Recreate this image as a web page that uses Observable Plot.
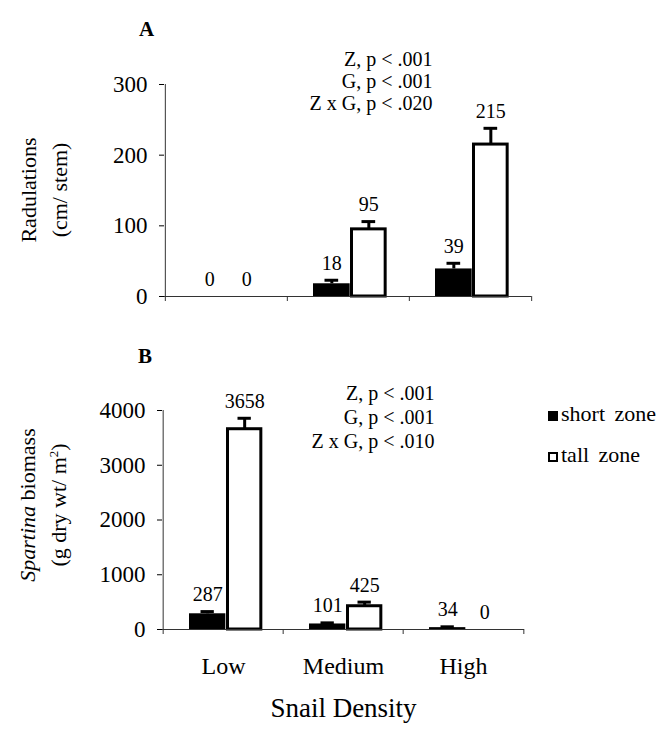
<!DOCTYPE html>
<html><head><meta charset="utf-8">
<script src="https://cdn.jsdelivr.net/npm/d3@7"></script>
<script src="https://cdn.jsdelivr.net/npm/@observablehq/plot@0.6"></script>
<style>
body{margin:0;background:#fff;}
#wrap{position:relative;width:665px;height:729px;font-family:"Liberation Serif","Times New Roman",serif;color:#000;overflow:hidden;background:#fff}
.abs{position:absolute;white-space:nowrap}
#wrap svg{position:absolute;left:0;overflow:visible}
.ytitle{position:absolute;transform:translate(-50%,-50%) rotate(-90deg);text-align:center;white-space:nowrap;font-size:22px;line-height:31px}
.sq{display:inline-block;width:10px;height:10px;box-sizing:border-box;margin-right:3px;vertical-align:0px}
</style></head><body><div id="wrap"></div>
<script>
// ---- data ----
const densities = ["Low", "Medium", "High"];
const legendLabels = ["short zone", "tall zone"];
const radShort = [0, 18, 39];
const radShortErr = [0, 5, 8];
const radTall = [0, 95, 215];
const radTallErr = [0, 11, 23];
const bioShort = [287, 101, 34];
const bioShortErr = [40, 20, 15];
const bioTall = [3658, 425, 0];
const bioTallErr = [200, 75, 0];
const radTicks = [0, 100, 200, 300];
const bioTicks = [0, 1000, 2000, 3000, 4000];
const statsA = ["Z, p < .001", "G, p < .001", "Z x G, p < .020"];
const statsB = ["Z, p < .001", "G, p < .001", "Z x G, p < .010"];
const xTitle = "Snail Density";

function rows(sv, se, tv, te) {
  return densities.flatMap((d, i) => [
    {density: d, zone: "short", value: sv[i], err: se[i]},
    {density: d, zone: "tall", value: tv[i], err: te[i]}
  ]);
}

const FONT = "Liberation Serif, Times New Roman, serif";

function panel(o) {
  const W = 665;
  const w = W - o.ml - o.mr;
  const b = w / 3;
  const h = o.height - o.mt - o.mb;
  const geo = {short: {l: 26, r: 63}, tall: {l: 63, r: 100}};
  const off = z => (geo[z].l + geo[z].r) / 2 - b / 2;
  const ctr = z => (geo[z].l + geo[z].r) / 2;
  const pos = o.data.filter(d => d.value > 0);
  const S = pos.filter(d => d.zone === "short");
  const T = pos.filter(d => d.zone === "tall");
  const marks = [
    Plot.barY(S, {x: "density", y: "value", fill: "#000", insetLeft: geo.short.l, insetRight: b - geo.short.r}),
    Plot.barY(T, {x: "density", y: "value", fill: "#fff", stroke: "#000", strokeWidth: 3, insetLeft: geo.tall.l + 1.5, insetRight: b - geo.tall.r + 1.5}),
    Plot.ruleY([0], {stroke: "#333", strokeWidth: 1}),
    Plot.ruleX([densities[0]], {x: d => d, dx: -b / 2, stroke: "#333", strokeWidth: 1}),
    Plot.ruleX(densities, {x: d => d, dx: -b / 2, insetTop: h, insetBottom: -5, stroke: "#333"}),
    Plot.ruleX([densities[2]], {x: d => d, dx: b / 2, insetTop: h, insetBottom: -5, stroke: "#333"}),
    // error bars
    Plot.ruleX(S, {x: "density", y1: "value", y2: d => d.value + d.err, dx: off("short"), strokeWidth: 3}),
    Plot.ruleX(T, {x: "density", y1: "value", y2: d => d.value + d.err, dx: off("tall"), strokeWidth: 3}),
    Plot.tickY(S, {x: "density", y: d => d.value + d.err, insetLeft: ctr("short") - 7, insetRight: b - ctr("short") - 7, strokeWidth: 3}),
    Plot.tickY(T, {x: "density", y: d => d.value + d.err, insetLeft: ctr("tall") - 7, insetRight: b - ctr("tall") - 7, strokeWidth: 3}),
    // value labels
    Plot.text(o.data.filter(d => d.zone === "short"), {x: "density", y: d => d.value + d.err, text: d => String(d.value), dx: off("short"), dy: -17, fontSize: 20, fill: "#000"}),
    Plot.text(o.data.filter(d => d.zone === "tall"), {x: "density", y: d => d.value + d.err, text: d => String(d.value), dx: off("tall"), dy: -17, fontSize: 20, fill: "#000"}),
    // stats
    Plot.text([o.stats.join("\n")], {text: d => d, frameAnchor: "top-right", textAnchor: "end", lineAnchor: "middle", dx: o.sdx, dy: o.sdy, fontSize: 20, lineHeight: o.slh, fill: "#000"}),
    Plot.axisY({ticks: o.ticks, tickSize: 5, tickPadding: 12, tickFormat: d => String(d), label: null, fontSize: 23})
  ];
  if (o.bottom) {
    marks.push(Plot.axisX({tickSize: 0, tickPadding: 27, fontSize: 24, label: null}));
    marks.push(Plot.text([xTitle], {text: d => d, frameAnchor: "bottom", dy: 87, fontSize: 27, fill: "#000"}));
  }
  const svg = Plot.plot({
    width: W,
    height: o.height,
    marginTop: o.mt, marginBottom: o.mb, marginLeft: o.ml, marginRight: o.mr,
    x: {domain: densities, padding: 0, axis: o.bottom ? undefined : null},
    y: {domain: o.domain},
    style: {fontFamily: FONT, fontSize: "22px", color: "#000", background: "transparent", overflow: "visible"},
    marks
  });
  svg.style.top = o.top + "px";
  return svg;
}

const wrap = document.getElementById("wrap");
wrap.appendChild(panel({
  data: rows(radShort, radShortErr, radTall, radTallErr),
  ticks: radTicks, domain: [0, 300], stats: statsA,
  top: 0, height: 330, mt: 84, mb: 34, ml: 164, mr: 134,
  sdx: -99, sdy: -4, slh: 22 / 20, bottom: false
}));
wrap.appendChild(panel({
  data: rows(bioShort, bioShortErr, bioTall, bioTallErr),
  ticks: bioTicks, domain: [0, 4000], stats: statsB,
  top: 330, height: 399, mt: 80, mb: 100, ml: 162, mr: 141,
  sdx: -90, sdy: 6, slh: 24 / 20, bottom: true
}));

function addHTML(html) { const t = document.createElement("div"); t.innerHTML = html; wrap.appendChild(t.firstElementChild); }
addHTML(`<div class="abs" style="left:139px;top:17px;font-size:21px;font-weight:bold">A</div>`);
addHTML(`<div class="abs" style="left:138px;top:344px;font-size:21px;font-weight:bold">B</div>`);
addHTML(`<div class="ytitle" style="left:44px;top:190px">Radulations<br>(cm/ stem)</div>`);
addHTML(`<div class="ytitle" style="left:43px;top:505px"><i>Spartina</i> biomass<br>(g dry wt/ m<sup style="font-size:13px;line-height:0">2</sup>)</div>`);
addHTML(`<div class="abs" style="left:548px;top:393px;font-size:22px;line-height:41px;word-spacing:4px">
<div><span class="sq" style="background:#000"></span>${legendLabels[0]}</div>
<div><span class="sq" style="background:#fff;border:2.5px solid #000"></span>${legendLabels[1]}</div></div>`);
</script></body></html>
